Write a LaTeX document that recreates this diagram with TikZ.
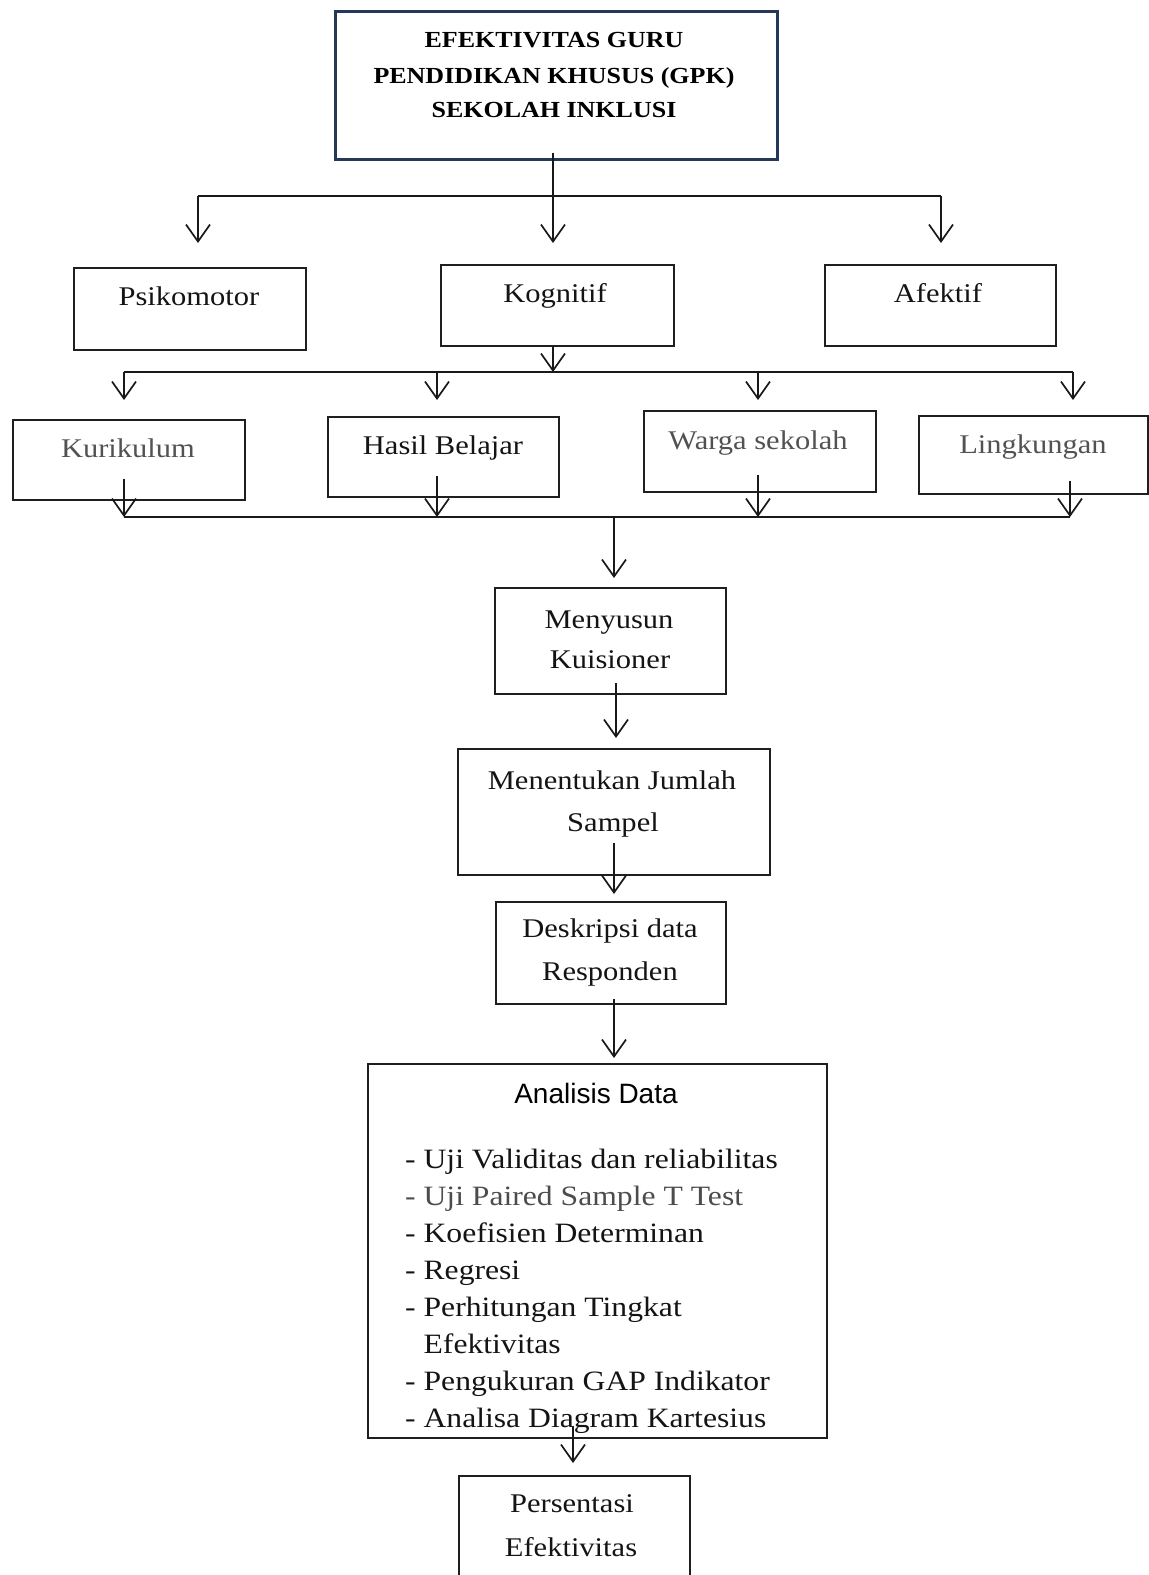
\documentclass[tikz,border=0pt]{standalone}
\usepackage{fontspec}
\setmainfont[FakeStretch=1.13]{Liberation Serif}
\setsansfont{Liberation Sans}
\usetikzlibrary{arrows.meta,calc}
\definecolor{navy}{HTML}{26385A}
\begin{document}
\begin{tikzpicture}[x=1pt,y=-1pt,
  box/.style={draw=black!88, line width=1.6pt, anchor=north west, inner sep=0pt, fill=white},
  lbl/.style={font=\fontsize{27}{40}\selectfont, anchor=base, inner sep=0pt, text=black!92},
  grey/.style={text=black!68},
  lst/.style={font=\fontsize{28}{37}\selectfont, anchor=base west, inner sep=0pt, text=black!92},
  conn/.style={line width=1.7pt, draw=black!90},
  arr/.style={conn, -{Straight Barb[length=17pt,width=24pt,line width=1.7pt]}}
]
\useasboundingbox (0,0) rectangle (1149,1575);
\clip (0,0) rectangle (1149,1575);
\fill[white] (0,0) rectangle (1149,1575);

% ---- top box
\node[box, draw=navy, line width=2.6pt, minimum width=442pt, minimum height=148pt] (top) at (334,10) {};
\node[font=\bfseries\fontsize{23}{35}\selectfont, anchor=base, inner sep=0pt] (t1) at (554,47) {EFEKTIVITAS GURU};
\node[font=\bfseries\fontsize{23}{35}\selectfont, anchor=base, inner sep=0pt] (t2) at (554,83) {PENDIDIKAN KHUSUS (GPK)};
\node[font=\bfseries\fontsize{23}{35}\selectfont, anchor=base, inner sep=0pt] (t3) at (554,117) {SEKOLAH INKLUSI};

% ---- level 2 boxes
\node[box, minimum width=232pt, minimum height=82pt] (psi) at (73,267) {};
\node[lbl] (psit) at (189,305) {Psikomotor};
\node[box, minimum width=233pt, minimum height=81pt] (kog) at (440,264) {};
\node[lbl] (kogt) at (555,302) {Kognitif};
\node[box, minimum width=231pt, minimum height=81pt] (afe) at (824,264) {};
\node[lbl] (afet) at (938,302) {Afektif};

% ---- top connectors
\coordinate (aL) at (198,196);
\coordinate (aM) at (553,196);
\coordinate (aR) at (941,196);
\coordinate (tipL) at (198,243);
\coordinate (tipM) at (553,243);
\coordinate (tipR) at (941,243);
\draw[conn] (aL) -- (aR);
\draw[arr] ($(top.south -| aM)+(0,-8)$) -- (tipM);
\draw[arr] (aL) -- (tipL);
\draw[arr] (aR) -- (tipR);

% ---- level 3 boxes
\node[box, minimum width=232pt, minimum height=80pt] (kur) at (12,419) {};
\node[lbl, grey] (kurt) at (128,457) {Kurikulum};
\node[box, minimum width=231pt, minimum height=80pt] (has) at (327,416) {};
\node[lbl] (hast) at (443,454) {Hasil Belajar};
\node[box, minimum width=232pt, minimum height=81pt] (war) at (643,410) {};
\node[lbl, grey] (wart) at (758,449) {Warga sekolah};
\node[box, minimum width=229pt, minimum height=78pt] (lin) at (918,415) {};
\node[lbl, grey] (lint) at (1033,453) {Lingkungan};

% ---- level 2 -> 3 connectors
\coordinate (b1) at (124,372);
\coordinate (b2) at (437,372);
\coordinate (b3) at (758,372);
\coordinate (b4) at (1073,372);
\coordinate (bK) at (553,372);
\draw[conn] (b1) -- (b4);
\draw[arr] (kog.south -| bK) -- (bK);
\draw[arr] (b1) -- ++(0,28) coordinate (c1);
\draw[arr] (b2) -- ++(0,28) coordinate (c2);
\draw[arr] (b3) -- ++(0,28) coordinate (c3);
\draw[arr] (b4) -- ++(0,28) coordinate (c4);

% ---- level 3 -> merge
\coordinate (d1) at (124,517);
\coordinate (d2) at (437,517);
\coordinate (d3) at (758,517);
\coordinate (d4) at (1070,517);
\coordinate (dM) at (614,517);
\draw[conn] (d1) -- (d4);
\draw[arr] ($(kur.south -| d1)+(0,-22)$) -- (d1);
\draw[arr] ($(has.south -| d2)+(0,-22)$) -- (d2);
\draw[arr] ($(war.south -| d3)+(0,-18)$) -- (d3);
\draw[arr] ($(lin.south -| d4)+(0,-14)$) -- (d4);

% ---- process chain
\node[box, minimum width=231pt, minimum height=106pt] (men) at (494,587) {};
\node[lbl] (menA) at (609,628) {Menyusun};
\node[lbl] (menB) at (610,668) {Kuisioner};
\draw[arr] (dM) -- ($(dM |- men.north)+(0,-9)$);

\node[box, minimum width=312pt, minimum height=126pt] (jum) at (457,748) {};
\node[lbl] (jumA) at (612,789) {Menentukan Jumlah};
\node[lbl] (jumB) at (613,831) {Sampel};
\coordinate (e1) at (616,683);
\draw[arr] (e1) -- ($(e1 |- jum.north)+(0,-10)$);

\node[box, minimum width=230pt, minimum height=102pt] (des) at (495,901) {};
\node[lbl] (desA) at (610,937) {Deskripsi data};
\node[lbl] (desB) at (610,980) {Responden};
\coordinate (e2) at (614,843);
\draw[arr] (e2) -- ($(e2 |- des.north)+(0,-7)$);

\node[box, minimum width=459pt, minimum height=374pt] (ana) at (367,1063) {};
\node[font=\sffamily\fontsize{28}{36}\selectfont, anchor=base, inner sep=0pt] (anaT) at (596,1103) {Analisis Data};
\node[lst] (l1) at (405,1168) {- Uji Validitas dan reliabilitas};
\node[lst, text=black!70] (l2) at (405,1205) {- Uji Paired Sample T Test};
\node[lst] (l3) at (405,1242) {- Koefisien Determinan};
\node[lst] (l4) at (405,1279) {- Regresi};
\node[lst] (l5) at (405,1316) {- Perhitungan Tingkat};
\node[lst] (l6) at (405,1353) {\phantom{- }Efektivitas};
\node[lst] (l7) at (405,1390) {- Pengukuran GAP Indikator};
\node[lst] (l8) at (405,1427) {- Analisa Diagram Kartesius};
\coordinate (e3) at (614,999);
\draw[arr] (e3) -- ($(e3 |- ana.north)+(0,-5)$);

\node[box, minimum width=231pt, minimum height=160pt] (per) at (458,1475) {};
\node[lbl] (perA) at (572,1512) {Persentasi};
\node[lbl] (perB) at (571,1556) {Efektivitas};
\coordinate (e4) at (573,1426);
\draw[arr] (e4) -- ($(e4 |- per.north)+(0,-12)$);
\end{tikzpicture}
\end{document}
